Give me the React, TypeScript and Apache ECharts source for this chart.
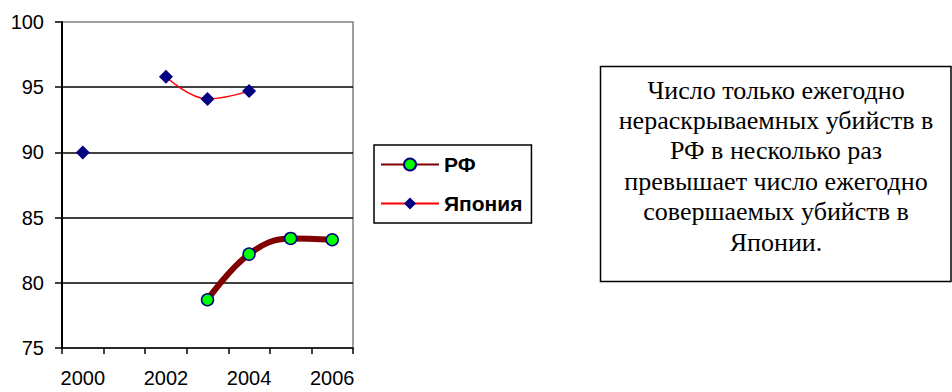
import React, { useEffect, useRef } from "react";
import * as echarts from "echarts";

const years = ["2000", "2001", "2002", "2003", "2004", "2005", "2006"];
const rfValues = [null, null, null, 78.7, 82.2, 83.4, 83.3];
const japanValues = [90.0, null, 95.8, 94.1, 94.7, null, null];
const seriesNames = ["РФ", "Япония"];
const yMin = 75;
const yMax = 100;
const yStep = 5;
const noteLines = [
  "Число только ежегодно",
  "нераскрываемных убийств в",
  "РФ в несколько раз",
  "превышает число ежегодно",
  "совершаемых убийств в",
  "Японии.",
];

export default function App() {
  const ref = useRef<HTMLDivElement>(null);
  useEffect(() => {
    if (!ref.current) return;
    const chart = echarts.init(ref.current, null, { renderer: "svg" });
    const sans = "Liberation Sans, Arial, sans-serif";
    chart.setOption({
      animation: false,
      backgroundColor: "#ffffff",
      grid: {
        left: 62,
        top: 22,
        right: 599,
        bottom: 44,
        show: true,
        borderColor: "#808080",
        borderWidth: 1.5,
        backgroundColor: "transparent",
      },
      xAxis: {
        type: "category",
        data: years,
        boundaryGap: true,
        axisLine: { lineStyle: { color: "#000", width: 1.5 } },
        axisTick: { show: true, interval: 0, length: 6, lineStyle: { color: "#000", width: 1.5 } },
        axisLabel: { interval: 1, color: "#000", fontSize: 20, fontFamily: sans, margin: 20 },
        splitLine: { show: false },
      },
      yAxis: {
        type: "value",
        min: yMin,
        max: yMax,
        interval: yStep,
        axisLine: { show: true, lineStyle: { color: "#000", width: 2 } },
        axisTick: { show: true, length: 7, lineStyle: { color: "#000", width: 1.5 } },
        axisLabel: { color: "#000", fontSize: 20, fontFamily: sans, margin: 18 },
        splitLine: {
          show: true,
          showMinLine: false,
          showMaxLine: false,
          lineStyle: { color: "#000", width: 1.5 },
        },
      },
      legend: {
        orient: "vertical",
        left: 374,
        top: 145,
        padding: [8, 9, 8, 6],
        itemGap: 16,
        itemWidth: 58,
        itemHeight: 15,
        borderColor: "#000",
        borderWidth: 1.5,
        backgroundColor: "#fff",
        textStyle: { color: "#000", fontSize: 21, fontWeight: "bold", fontFamily: sans, lineHeight: 23 },
        data: seriesNames,
      },
      series: [
        {
          name: seriesNames[0],
          type: "line",
          data: rfValues,
          smooth: 0.4,
          connectNulls: false,
          showSymbol: true,
          showAllSymbol: true,
          symbol: "circle",
          symbolSize: 12,
          lineStyle: { color: "#800000", width: 6 },
          itemStyle: { color: "#00ff00", borderColor: "#000080", borderWidth: 1.5 },
          z: 3,
        },
        {
          name: seriesNames[1],
          type: "line",
          data: japanValues,
          smooth: 0.4,
          connectNulls: false,
          showSymbol: true,
          showAllSymbol: true,
          symbol: "diamond",
          symbolSize: 14,
          lineStyle: { color: "#ff0000", width: 1.5 },
          itemStyle: { color: "#000080", borderWidth: 0 },
          z: 2,
        },
      ],
      graphic: [
        {
          type: "rect",
          shape: { x: 600.5, y: 66.5, width: 350.5, height: 215 },
          style: { fill: "#fff", stroke: "#000", lineWidth: 1.5 },
        },
        {
          type: "text",
          x: 776,
          y: 166,
          style: {
            text: noteLines.join("\n"),
            fontSize: 26,
            fontFamily: "Liberation Serif",
            align: "center",
            verticalAlign: "middle",
            lineHeight: 30.4,
            fill: "#000",
          },
        },
      ],
    });
    return () => chart.dispose();
  }, []);
  return (
    <div
      ref={ref}
      style={{ position: "fixed", left: 0, top: 0, width: 952, height: 392, background: "#fff" }}
    />
  );
}
